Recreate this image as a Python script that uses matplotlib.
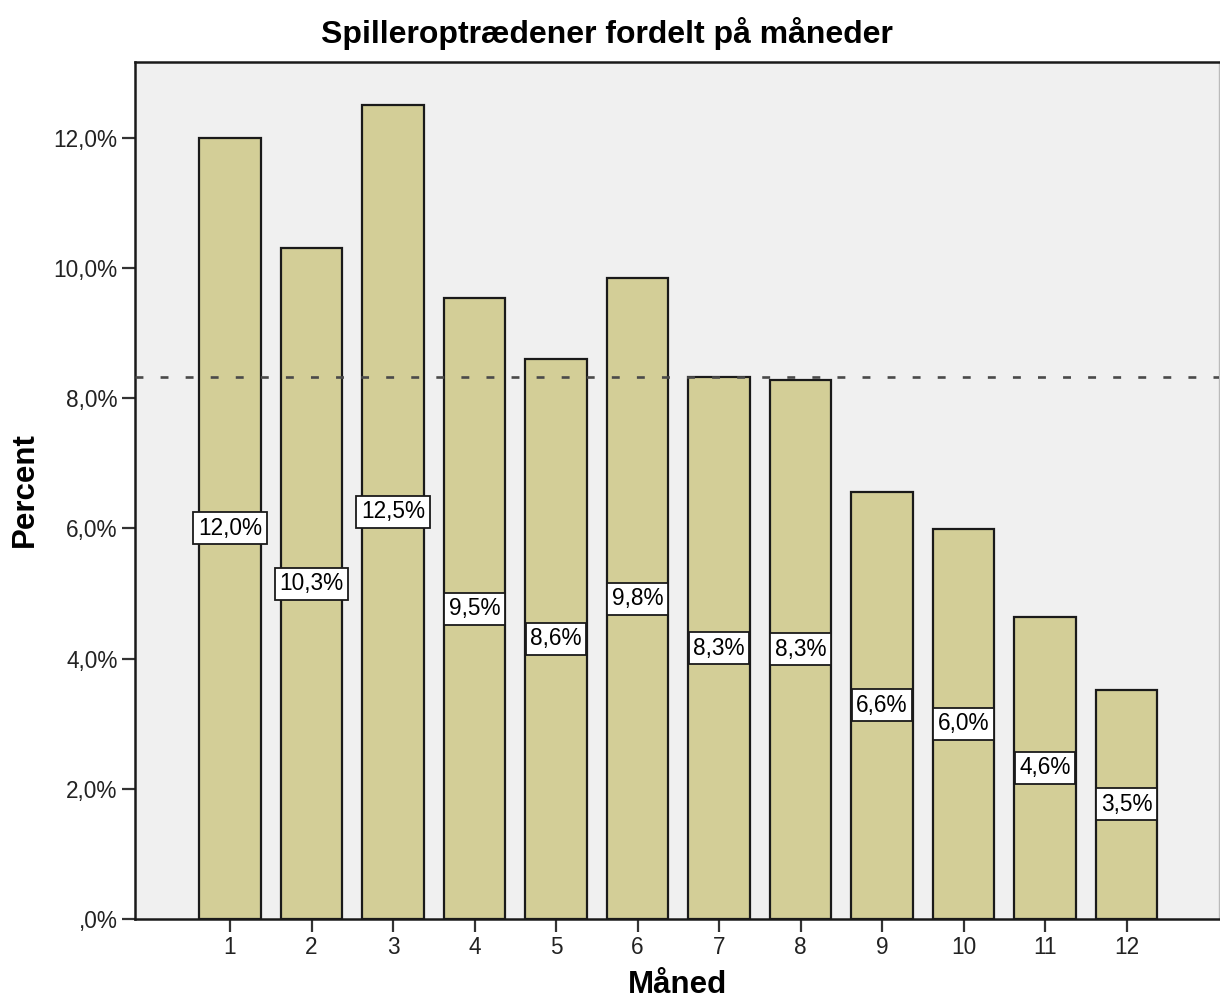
import matplotlib
matplotlib.use("Agg")
import matplotlib.pyplot as plt

plt.rcParams['font.family'] = ['Liberation Sans', 'DejaVu Sans']

# data (percent of player appearances per month)
months = [1, 2, 3, 4, 5, 6, 7, 8, 9, 10, 11, 12]
percent = [12.0, 10.3, 12.5, 9.53, 8.6, 9.84, 8.32, 8.28, 6.56, 5.99, 4.64, 3.52]
ref_pct = 8.33  # even spread over 12 months
ytick_vals = [0, 2, 4, 6, 8, 10, 12]
ytick_labels = [",0%", "2,0%", "4,0%", "6,0%", "8,0%", "10,0%", "12,0%"]

bar_color = '#D3CE97'
bg_color = '#F0F0F0'

fig = plt.figure(figsize=(12.2, 10.05), dpi=100)
ax = fig.add_axes([135/1220, 86/1005, 1084/1220, 857/1005])
ax.set_facecolor(bg_color)

ax.bar(months, percent, width=0.75, color=bar_color, edgecolor='#1a1a1a',
       linewidth=1.6, zorder=2)
ax.axhline(ref_pct, color='#4a4a4a', lw=1.9, dashes=(3.0, 6.5), zorder=3)

# value labels in white boxes at half bar height
for m, p in zip(months, percent):
    txt = f"{p:.1f}".replace('.', ',') + "%"
    ax.text(m, p / 2, txt, ha='center', va='center', fontsize=16.3, zorder=4,
            bbox=dict(boxstyle='square,pad=0.2', fc='white', ec='#1a1a1a', lw=1.3))

ax.set_xlim(-0.166, 13.135)
ax.set_ylim(0, 13.16)
ax.set_xticks(months)
ax.set_xticklabels([str(m) for m in months])
ax.set_yticks(ytick_vals)
ax.set_yticklabels(ytick_labels)
ax.tick_params(axis='both', length=9.5, width=1.6, color='#333333',
               labelsize=16.3, labelcolor='#222222', pad=3)

for side in ['left', 'bottom', 'top']:
    ax.spines[side].set_color('#1a1a1a')
    ax.spines[side].set_linewidth(1.8)
ax.spines['right'].set_color('#bbbbbb')
ax.spines['right'].set_linewidth(1.0)

fig.text(606.5/1220, 1 - 33/1005, 'Spilleroptrædener fordelt på måneder',
         ha='center', va='center', fontsize=23, fontweight='bold')
fig.text(677/1220, 1 - 985/1005, 'Måned', ha='center', va='center',
         fontsize=22.5, fontweight='bold')
fig.text(25/1220, 1 - 490/1005, 'Percent', ha='center', va='center',
         rotation=90, fontsize=22.5, fontweight='bold')

fig.savefig('out.png', dpi=100)
